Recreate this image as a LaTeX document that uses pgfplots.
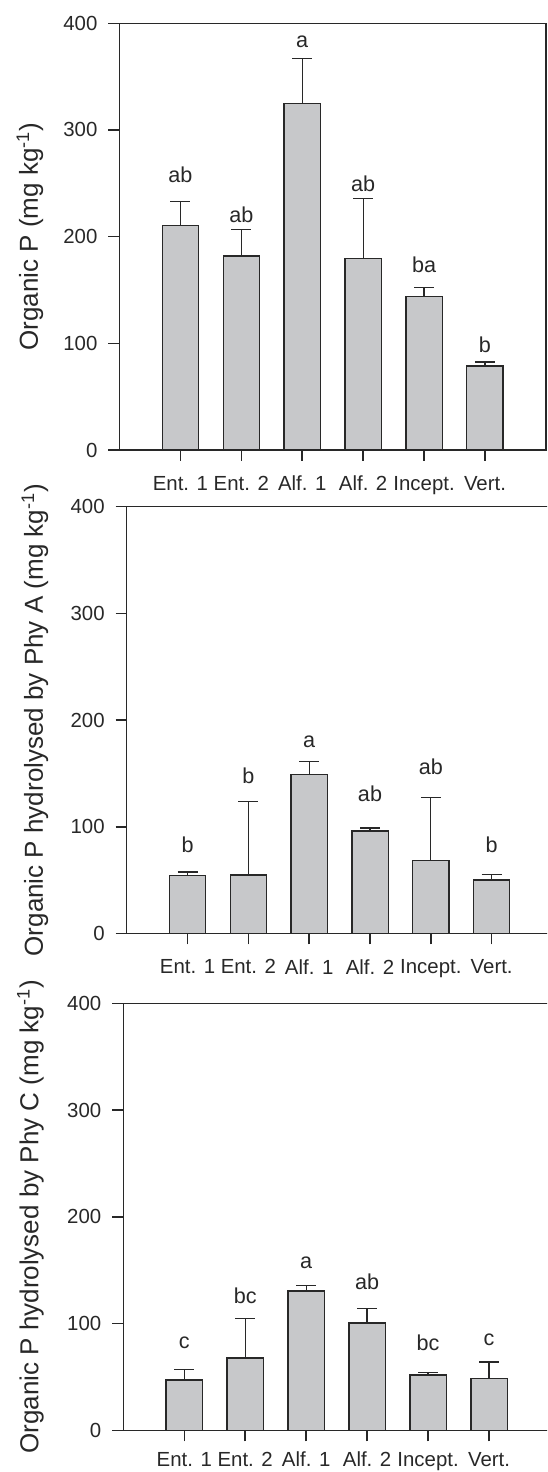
\documentclass[border=0pt]{standalone}
\usepackage{pgfplots}
\pgfplotsset{compat=1.18}
\usepackage{fontspec}
\setmainfont{Liberation Sans}
\definecolor{barfill}{RGB}{199,200,202}
\definecolor{ink}{RGB}{40,40,40}

\pgfplotstableread{
x y e ly lab
1 210.5 22.5 250.6 ab
2 181.8 25.0 212.5 ab
3 325.0 42.0 376.6 a
4 179.7 56.0 241.6 ab
5 144.2 8.2 166.2 ba
6 78.7 3.8 90.6 b
}\tableA
\pgfplotstableread{
x y e ly lab
1 54.6 3.1 74.9 b
2 54.9 69.0 140.4 b
3 149.1 11.9 173.5 a
4 96.1 2.8 122.9 ab
5 68.6 58.7 148.5 ab
6 50.2 5.0 74.9 b
}\tableB
\pgfplotstableread{
x y e ly lab
1 47.2 9.9 75.9 c
2 67.8 36.8 118.3 bc
3 130.5 5.3 150.8 a
4 100.5 13.5 131.5 ab
5 51.8 2.2 74.6 bc
6 48.7 15.3 78.4 c
}\tableC

\pgfplotsset{
  panel/.style={
    scale only axis,
    anchor=south west,
    xmin=0, xmax=7, ymin=0, ymax=400,
    xtick={1,2,3,4,5,6},
    xticklabels={Ent. 1, Ent. 2, Alf. 1, Alf. 2, Incept., Vert.},
    ytick={0,100,200,300,400},
    tick pos=left,
    tick align=outside,
    major tick length=5.5pt,
    axis line style={ink, line width=0.75pt},
    every tick/.style={ink, line width=0.75pt},
    tick label style={font=\fontsize{10.2}{12}\selectfont, text=ink},
    xticklabel style={yshift=-4pt},
    yticklabel style={xshift=-2pt},
    /pgf/number format/assume math mode=true,
    every axis y label/.style={at={(rel axis cs:#1,0.5)}, rotate=90, anchor=center,
      font=\fontsize{13}{15}\selectfont, text=ink},
  },
  bars/.style={ybar, bar width=18.15pt, fill=barfill, draw=ink, line width=0.65pt,
    error bars/.cd, y dir=plus, y explicit, error mark=|,
    error bar style={ink, line width=0.65pt},
    error mark options={ink, line width=0.65pt, mark size=5pt}},
  letters/.style={draw=none, mark=none, nodes near coords, point meta=explicit symbolic,
    every node near coord/.append style={inner sep=0pt, anchor=south, text=ink,
      font=\fontsize{10.8}{13}\selectfont}},
}

\begin{document}
\begin{tikzpicture}
\useasboundingbox (0,0) rectangle (273.5pt,736pt);
\clip (0,0) rectangle (273.5pt,736pt);

\begin{axis}[panel={-0.21}, at={(59.75pt,511pt)}, width=213.2pt, height=213.35pt,
  ylabel={Organic P (mg kg\textsuperscript{-1})}]
\addplot[bars] table[x=x, y=y, y error=e] {\tableA};
\addplot[letters] table[x=x, y=ly, meta=lab] {\tableA};
\end{axis}

\begin{axis}[panel={-0.2154}, at={(63.35pt,269.25pt)}, width=212.9pt, height=213.4pt,
  ylabel={Organic P hydrolysed by Phy A (mg kg\textsuperscript{-1})}]
\addplot[bars] table[x=x, y=y, y error=e] {\tableB};
\addplot[letters] table[x=x, y=ly, meta=lab] {\tableB};
\end{axis}

\begin{axis}[panel={-0.2175}, at={(61.65pt,20.85pt)}, width=213.35pt, height=213.5pt,
  xticklabel style={yshift=2.2pt},
  ylabel={Organic P hydrolysed by Phy C (mg kg\textsuperscript{-1})}]
\addplot[bars] table[x=x, y=y, y error=e] {\tableC};
\addplot[letters] table[x=x, y=ly, meta=lab] {\tableC};
\end{axis}
\end{tikzpicture}
\end{document}
